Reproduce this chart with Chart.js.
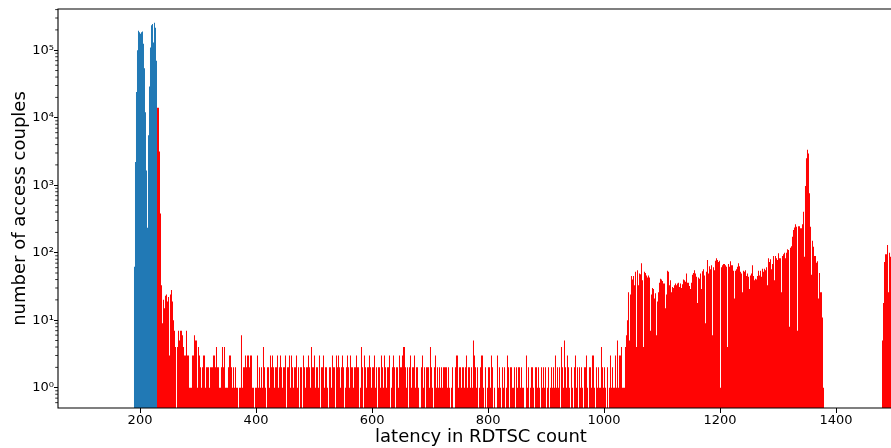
<!DOCTYPE html>
<html>
<head>
<meta charset="utf-8">
<script src="https://cdn.jsdelivr.net/npm/chart.js@4/dist/chart.umd.min.js"></script>
<style>
  html, body { margin: 0; padding: 0; background: #fff; }
  #wrap { width: 891px; height: 448px; overflow: hidden; }
  canvas { display: block; }
</style>
</head>
<body>
<div id="wrap"><canvas id="hist" width="904" height="448"></canvas></div>
<script>
// latency histogram, one bin every 1.724 RDTSC counts
const binWidth = 1.724;

// same-set accesses (blue)
const blueStart = 189.6;
const blueCounts = [62, 2200, 24000, 100000, 195000, 185000, 175000, 185000, 190000, 125000,
  54000, 12000, 1650, 235, 5500, 29000, 110000, 235000, 245000, 130000,
  255000, 215000, 70000];

// other accesses (red), starting right after the blue bins
const redCounts = [
  14000, 14000, 3150, 380, 33, 9, 20, 15, 23, 24,
  19, 22, 3, 24, 28, 19, 10, 7, 4, 0,
  4, 7, 5, 7, 7, 6, 4, 3, 3, 7,
  3, 3, 1, 1, 1, 3, 3, 6, 5, 5,
  1, 4, 3, 2, 1, 2, 3, 3, 1, 2,
  2, 2, 1, 2, 2, 2, 3, 3, 2, 4,
  2, 2, 1, 1, 2, 4, 2, 4, 1, 1,
  1, 2, 3, 3, 2, 1, 2, 1, 2, 1,
  1, 0, 1, 1, 6, 1, 2, 2, 3, 2,
  3, 3, 2, 3, 3, 1, 1, 0, 1, 1,
  3, 1, 2, 1, 2, 1, 4, 2, 1, 0,
  2, 2, 1, 3, 2, 3, 2, 1, 2, 2,
  3, 1, 2, 3, 2, 1, 2, 2, 3, 0,
  2, 2, 3, 1, 3, 2, 1, 2, 2, 3,
  1, 2, 0, 2, 2, 0, 3, 2, 1, 2,
  2, 3, 2, 1, 4, 2, 2, 3, 1, 2,
  2, 1, 3, 0, 2, 2, 3, 1, 2, 2,
  1, 0, 2, 2, 1, 3, 2, 2, 0, 3,
  2, 3, 2, 1, 2, 3, 2, 0, 1, 2,
  3, 2, 1, 3, 2, 2, 1, 2, 2, 3,
  2, 2, 0, 1, 4, 2, 0, 3, 2, 1,
  2, 2, 3, 2, 1, 2, 2, 3, 1, 2,
  0, 2, 2, 1, 3, 2, 1, 3, 2, 1,
  2, 2, 3, 0, 1, 2, 3, 2, 0, 2,
  2, 1, 3, 2, 2, 3, 4, 4, 2, 1,
  2, 0, 2, 3, 1, 2, 2, 3, 1, 2,
  2, 1, 0, 0, 2, 3, 1, 2, 0, 2,
  2, 2, 1, 4, 2, 1, 0, 2, 3, 1,
  2, 1, 2, 1, 2, 1, 2, 2, 2, 2,
  1, 2, 1, 0, 1, 2, 0, 0, 2, 3,
  3, 1, 2, 2, 1, 2, 2, 1, 2, 3,
  1, 2, 2, 1, 2, 1, 5, 3, 2, 1,
  2, 0, 1, 2, 3, 3, 1, 0, 2, 0,
  1, 2, 2, 1, 3, 2, 0, 1, 0, 0,
  3, 1, 2, 1, 0, 2, 1, 2, 0, 1,
  3, 2, 0, 2, 2, 1, 1, 2, 0, 2,
  1, 2, 2, 1, 2, 1, 1, 0, 0, 3,
  1, 2, 0, 1, 2, 2, 1, 0, 2, 2,
  1, 2, 1, 0, 2, 1, 2, 1, 2, 0,
  1, 2, 0, 1, 2, 1, 2, 1, 3, 1,
  2, 1, 2, 0, 4, 2, 1, 5, 2, 1,
  3, 2, 1, 0, 2, 1, 0, 2, 3, 1,
  2, 0, 2, 1, 2, 1, 0, 2, 2, 3,
  1, 0, 2, 2, 1, 3, 3, 1, 0, 2,
  1, 2, 1, 1, 4, 2, 1, 2, 1, 0,
  2, 0, 1, 3, 1, 2, 1, 1, 3, 1,
  5, 1, 3, 3, 4, 1, 1, 1, 4, 6,
  10, 26, 5, 24, 45, 40, 45, 33, 52, 4,
  55, 33, 49, 48, 70, 39, 4, 52, 50, 46,
  43, 46, 43, 7, 24, 30, 29, 21, 25, 6,
  19, 26, 36, 41, 40, 38, 35, 35, 15, 24,
  54, 52, 33, 39, 26, 31, 30, 33, 35, 33,
  35, 36, 31, 35, 30, 34, 40, 39, 37, 49,
  36, 36, 32, 29, 36, 47, 50, 55, 49, 44,
  18, 43, 41, 49, 29, 53, 57, 46, 9, 52,
  78, 49, 63, 57, 65, 6, 61, 55, 76, 83,
  78, 73, 76, 1, 61, 65, 68, 68, 65, 62,
  4, 68, 62, 75, 65, 65, 54, 21, 54, 57,
  62, 70, 63, 52, 49, 26, 54, 52, 55, 45,
  49, 44, 29, 46, 49, 65, 45, 39, 41, 40,
  45, 54, 46, 54, 44, 58, 52, 58, 55, 61,
  33, 83, 73, 80, 57, 68, 89, 39, 89, 83,
  78, 98, 83, 83, 26, 89, 95, 100, 83, 100,
  112, 110, 8, 118, 125, 172, 216, 237, 265, 242,
  7, 247, 247, 230, 230, 265, 405, 87, 970, 2500,
  3360, 2950, 760, 242, 47, 150, 123, 89, 89, 71,
  75, 21, 50, 26, 26, 11, 1
];

// second slow cluster
const tailStart = 1479.2;
const tailCounts = [5, 18, 73, 95, 95, 130, 26, 100, 87];

const xTicks = [200, 400, 600, 800, 1000, 1200, 1400];
const yTicks = [1, 10, 100, 1000, 10000, 100000];
const yTickLabels = ["10\u2070", "10\u00b9", "10\u00b2", "10\u00b3", "10\u2074", "10\u2075"];
const xTitle = "latency in RDTSC count";
const yTitle = "number of access couples";

const redStart = blueStart + blueCounts.length * binWidth;

function bins(start, counts) {
  return counts.map((c, i) => ({ x: start + (i + 0.5) * binWidth, y: c }));
}

// log minor ticks 2..9 of every decade
const yMinor = [];
for (let d = 0.1; d < 1e6; d *= 10) {
  for (let m = 2; m <= 9; m++) yMinor.push(d * m);
}

const FONT = "DejaVu Sans";

// matplotlib-like frame drawn above the bars, plus minor y ticks
const frame = {
  id: "frame",
  afterDatasetsDraw(chart) {
    const { ctx, chartArea: a, scales } = chart;
    ctx.save();
    ctx.strokeStyle = "#000";
    ctx.lineWidth = 1.1;
    ctx.beginPath();
    ctx.moveTo(a.right, a.top);
    ctx.lineTo(a.left, a.top);
    ctx.lineTo(a.left, a.bottom);
    ctx.lineTo(a.right, a.bottom);
    ctx.stroke();

    const y = scales.y;
    ctx.lineWidth = 0.8;
    ctx.beginPath();
    for (const v of yMinor) {
      if (v <= y.min || v >= y.max) continue;
      const p = y.getPixelForValue(v);
      ctx.moveTo(a.left - 2.8, p);
      ctx.lineTo(a.left, p);
    }
    ctx.stroke();
    ctx.restore();
  }
};

new Chart(document.getElementById("hist"), {
  type: "bar",
  data: {
    datasets: [
      { data: bins(blueStart, blueCounts), backgroundColor: "#1f77b4" },
      { data: bins(redStart, redCounts), backgroundColor: "#ff0000" },
      { data: bins(tailStart, tailCounts), backgroundColor: "#ff0000" }
    ]
  },
  options: {
    responsive: false,
    animation: false,
    devicePixelRatio: 1,
    layout: { padding: { top: 9, left: 0, right: 0, bottom: 0 } },
    datasets: {
      bar: { grouped: false, barPercentage: 1, categoryPercentage: 1, borderWidth: 0, inflateAmount: 0 }
    },
    plugins: { legend: { display: false }, tooltip: { enabled: false } },
    scales: {
      x: {
        type: "linear",
        min: 58.6,
        max: 1517.1,
        offset: false,
        afterBuildTicks: s => { s.ticks = xTicks.map(v => ({ value: v })); },
        afterFit: s => { s.height = 40; },
        border: { display: false },
        grid: { display: true, offset: false, drawOnChartArea: false, drawTicks: true, tickLength: 5, tickColor: "#000", tickWidth: 1 },
        ticks: {
          color: "#000", padding: 0, maxRotation: 0, autoSkip: false,
          font: { family: FONT, size: 13 },
          callback: v => String(v)
        },
        title: {
          display: true, text: xTitle, color: "#000",
          font: { family: FONT, size: 18 },
          padding: { top: 0, bottom: 0 }
        }
      },
      y: {
        type: "logarithmic",
        min: 0.5,
        max: 4.08e5,
        afterBuildTicks: s => { s.ticks = yTicks.map(v => ({ value: v, major: true })); },
        afterFit: s => { s.width = 58; },
        border: { display: false },
        grid: { display: true, drawOnChartArea: false, drawTicks: true, tickLength: 4, tickColor: "#000", tickWidth: 1 },
        ticks: {
          color: "#000", padding: 0, autoSkip: false,
          font: { family: FONT, size: 13 },
          callback: (v, i) => yTickLabels[i]
        },
        title: {
          display: true, text: yTitle, color: "#000",
          font: { family: FONT, size: 18 },
          padding: { top: 10, bottom: 0 }
        }
      }
    }
  },
  plugins: [frame]
});
</script>
</body>
</html>
